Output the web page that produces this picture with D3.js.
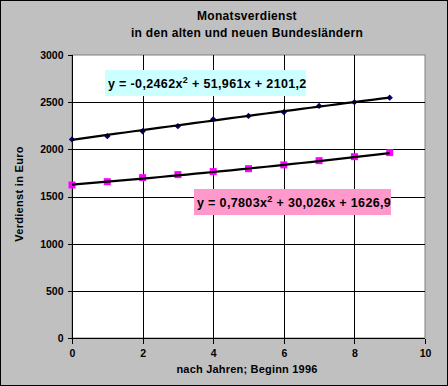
<!DOCTYPE html>
<html>
<head>
<meta charset="utf-8">
<script src="https://cdn.jsdelivr.net/npm/d3@7"></script>
<style>
body{margin:0;padding:0;background:#fff;}
svg{display:block;font-family:"Liberation Sans",Arial,sans-serif;font-weight:bold;}
</style>
</head>
<body>
<script>
var width = 448;
var height = 386;

// data
var years = [0,1,2,3,4,5,6,7,8,9];
var west = [2105,2140,2192,2246,2318,2354,2394,2460,2500,2548];
var ost = [1622,1657,1700,1732,1764,1795,1835,1880,1922,1965];
// trendline coefficients (a x^2 + b x + c), as printed on the chart
var westFit = [-0.2462, 51.961, 2101.2];
var ostFit = [0.7803, 30.026, 1626.9];
var xTicks = [0,2,4,6,8,10];
var yTicks = [0,500,1000,1500,2000,2500,3000];

var margin = {left:72, right:23, top:55, bottom:48};

var x = d3.scaleLinear().domain([0,10]).range([margin.left, width - margin.right]);
var y = d3.scaleLinear().domain([0,3000]).range([height - margin.bottom, margin.top]);

var svg = d3.select('body').append('svg')
  .attr('width', width)
  .attr('height', height);

// chart area
svg.append('rect')
  .attr('x',0.5).attr('y',0.5)
  .attr('width',width-1).attr('height',height-1)
  .style('fill','#c0c0c0')
  .style('stroke','#000');

// plot area
svg.append('rect')
  .attr('x',x(0)).attr('y',y(3000))
  .attr('width',x(10)-x(0)).attr('height',y(0)-y(3000))
  .style('fill','#fff')
  .style('stroke','#808080');

// grid
svg.append('g').selectAll('line')
  .data(yTicks.filter(function(d){return d>0 && d<3000;}))
  .enter().append('line')
  .attr('x1',x(0)).attr('x2',x(10))
  .attr('y1',function(d){return Math.round(y(d))+0.5;})
  .attr('y2',function(d){return Math.round(y(d))+0.5;})
  .style('stroke','#000');
svg.append('g').selectAll('line')
  .data(xTicks.filter(function(d){return d>0 && d<10;}))
  .enter().append('line')
  .attr('y1',y(0)).attr('y2',y(3000))
  .attr('x1',function(d){return Math.round(x(d))+0.5;})
  .attr('x2',function(d){return Math.round(x(d))+0.5;})
  .style('stroke','#000');

// axes
var yAxis = svg.append('g')
  .attr('transform','translate(' + (x(0)+0.5) + ',0)')
  .call(d3.axisLeft(y).tickValues(yTicks).tickFormat(d3.format('d')).tickSize(5).tickPadding(4));
var xAxis = svg.append('g')
  .attr('transform','translate(0,' + (y(0)+0.5) + ')')
  .call(d3.axisBottom(x).tickValues(xTicks).tickFormat(d3.format('d')).tickSize(5).tickPadding(6));
[xAxis,yAxis].forEach(function(a){
  a.selectAll('path,line').style('stroke','#000').attr('shape-rendering','crispEdges');
  a.selectAll('text').style('font-size','10.5px').style('font-weight','bold')
    .style('font-family','"Liberation Sans",Arial,sans-serif').style('fill','#000');
});
xAxis.select('.domain').attr('d','M' + x(0) + ',0H' + x(10));
yAxis.select('.domain').attr('d','M0,' + y(0) + 'V' + y(3000));

// markers
svg.append('g').selectAll('path')
  .data(years)
  .enter().append('path')
  .attr('d', d3.symbol().type(d3.symbolSquare).size(20))
  .attr('transform',function(d,i){return 'translate(' + x(d) + ',' + y(west[i]) + ') rotate(45)';})
  .style('fill','#000080');
svg.append('g').selectAll('rect')
  .data(years)
  .enter().append('rect')
  .attr('x',function(d){return x(d)-3.5;})
  .attr('y',function(d,i){return y(ost[i])-3.5;})
  .attr('width',7).attr('height',7)
  .style('fill','#ff00ff');

// trendlines
function trend(c){
  var pts = d3.range(0, 9.01, 0.25).map(function(t){return [t, c[0]*t*t + c[1]*t + c[2]];});
  return d3.line().x(function(d){return x(d[0]);}).y(function(d){return y(d[1]);})(pts);
}
[westFit, ostFit].forEach(function(c){
  svg.append('path')
    .attr('d', trend(c))
    .style('fill','none')
    .style('stroke','#000')
    .style('stroke-width',2.2);
});

// equation labels
function fmt(v, d){ return d3.format('.' + d + 'f')(Math.abs(v)).replace('.', ','); }
function label(c, bx, by, bw, fill){
  svg.append('rect').attr('x',bx).attr('y',by).attr('width',bw).attr('height',26).style('fill',fill);
  var t = svg.append('text').attr('x',bx+3).attr('y',by+18)
    .style('font-size','12.5px').style('letter-spacing','0.35px');
  t.append('tspan').text('y = ' + (c[0]<0 ? '-' : '') + fmt(c[0],4) + 'x');
  t.append('tspan').attr('dy',-5).style('font-size','9px').text('2');
  t.append('tspan').attr('dy',5).text(' + ' + fmt(c[1],3) + 'x + ' + fmt(c[2],1));
}
label(westFit, 105, 70, 201, '#ccffff');
label(ostFit, 194, 189, 197, '#ff99cc');

// titles
svg.append('text').attr('x',247).attr('y',20).attr('text-anchor','middle')
  .style('font-size','12px').style('letter-spacing','0.3px').text('Monatsverdienst');
svg.append('text').attr('x',247).attr('y',37).attr('text-anchor','middle')
  .style('font-size','12px').style('letter-spacing','0.3px').text('in den alten und neuen Bundesländern');
svg.append('text').attr('x',247).attr('y',373).attr('text-anchor','middle')
  .style('font-size','11px').style('letter-spacing','0.2px').text('nach Jahren; Beginn 1996');
svg.append('text').attr('transform','translate(23,194) rotate(-90)').attr('text-anchor','middle')
  .style('font-size','11px').style('letter-spacing','0.3px').text('Verdienst in Euro');
</script>
</body>
</html>
